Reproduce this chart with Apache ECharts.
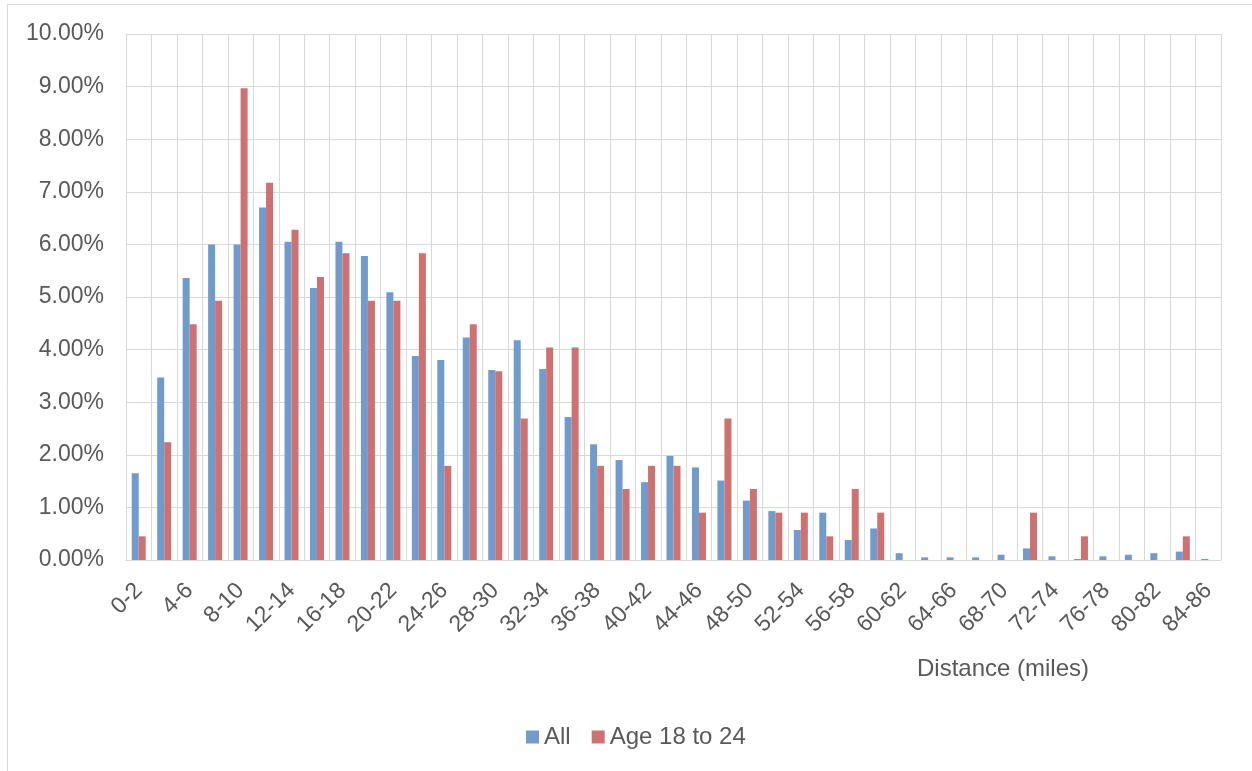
<!DOCTYPE html>
<html>
<head>
<meta charset="utf-8">
<title>Distance distribution</title>
<script src="https://cdn.jsdelivr.net/npm/echarts@6/dist/echarts.min.js"></script>
<style>
  html, body { margin: 0; padding: 0; background: #ffffff; }
  #chart { width: 1252px; height: 771px; }
</style>
</head>
<body>
<div id="chart"></div>
<script>
// Distance bins (miles)
const categories = [
  '0-2', '2-4', '4-6', '6-8', '8-10', '10-12', '12-14', '14-16', '16-18', '18-20',
  '20-22', '22-24', '24-26', '26-28', '28-30', '30-32', '32-34', '34-36', '36-38', '38-40',
  '40-42', '42-44', '44-46', '46-48', '48-50', '50-52', '52-54', '54-56', '56-58', '58-60',
  '60-62', '62-64', '64-66', '66-68', '68-70', '70-72', '72-74', '74-76', '76-78', '78-80',
  '80-82', '82-84', '84-86'
];

// Share of trips per bin, in percent
const allValues = [
  1.65, 3.47, 5.36, 6.00, 6.00, 6.70, 6.05, 5.17, 6.05, 5.78,
  5.09, 3.88, 3.80, 4.23, 3.61, 4.18, 3.63, 2.72, 2.20, 1.90,
  1.48, 1.98, 1.76, 1.51, 1.13, 0.93, 0.57, 0.90, 0.38, 0.60,
  0.13, 0.05, 0.05, 0.05, 0.10, 0.22, 0.07, 0.02, 0.07, 0.10,
  0.13, 0.16, 0.02
];

const age18to24Values = [
  0.45, 2.24, 4.48, 4.93, 8.97, 7.17, 6.28, 5.38, 5.83, 4.93,
  4.93, 5.83, 1.79, 4.48, 3.59, 2.69, 4.04, 4.04, 1.79, 1.35,
  1.79, 1.79, 0.90, 2.69, 1.35, 0.90, 0.90, 0.45, 1.35, 0.90,
  0, 0, 0, 0, 0, 0.90, 0, 0.45, 0, 0,
  0, 0.45, 0
];

const seriesNames = ['All', 'Age 18 to 24'];
const axisTitle = 'Distance (miles)';

const FONT = '"Liberation Sans", Arial, sans-serif';
const TEXT = '#595959';
const GRID = '#d9d9d9';

const chart = echarts.init(document.getElementById('chart'), null, { renderer: 'canvas' });

chart.setOption({
  animation: false,
  backgroundColor: '#ffffff',
  textStyle: { fontFamily: FONT },
  grid: { left: 126, right: 31, top: 34, bottom: 211, containLabel: false },
  legend: {
    data: seriesNames,
    left: 526,
    top: 725,
    padding: 0,
    icon: 'rect',
    itemWidth: 13,
    itemHeight: 13,
    itemGap: 21,
    textStyle: { color: TEXT, fontSize: 24, fontFamily: FONT }
  },
  xAxis: {
    type: 'category',
    data: categories,
    boundaryGap: true,
    axisLine: { show: true, lineStyle: { color: GRID, width: 1 } },
    axisTick: { show: false },
    splitLine: { show: true, interval: 0, lineStyle: { color: GRID, width: 1 } },
    axisLabel: {
      interval: 1,
      rotate: 45,
      margin: 27,
      color: TEXT,
      fontSize: 23,
      fontFamily: FONT
    }
  },
  yAxis: {
    type: 'value',
    min: 0,
    max: 10,
    interval: 1,
    axisLine: { show: false },
    axisTick: { show: false },
    splitLine: { show: true, lineStyle: { color: GRID, width: 1 } },
    axisLabel: {
      margin: 22,
      color: TEXT,
      fontSize: 23,
      fontFamily: FONT,
      formatter: v => v.toFixed(2) + '%'
    }
  },
  series: [
    {
      name: seriesNames[0],
      type: 'bar',
      data: allValues,
      barWidth: 7,
      barGap: '0%',
      itemStyle: { color: '#729bcd' }
    },
    {
      name: seriesNames[1],
      type: 'bar',
      data: age18to24Values,
      barWidth: 7,
      barGap: '0%',
      itemStyle: { color: '#cd7171' }
    }
  ],
  graphic: [
    {
      type: 'rect',
      silent: true,
      shape: { x: 7.5, y: 4.5, width: 1300, height: 900 },
      style: { fill: 'none', stroke: GRID, lineWidth: 1 }
    },
    {
      type: 'text',
      silent: true,
      x: 1003,
      y: 669,
      style: {
        text: axisTitle,
        fill: TEXT,
        font: '24px ' + FONT,
        textAlign: 'center',
        textVerticalAlign: 'middle'
      }
    }
  ]
});
</script>
</body>
</html>
